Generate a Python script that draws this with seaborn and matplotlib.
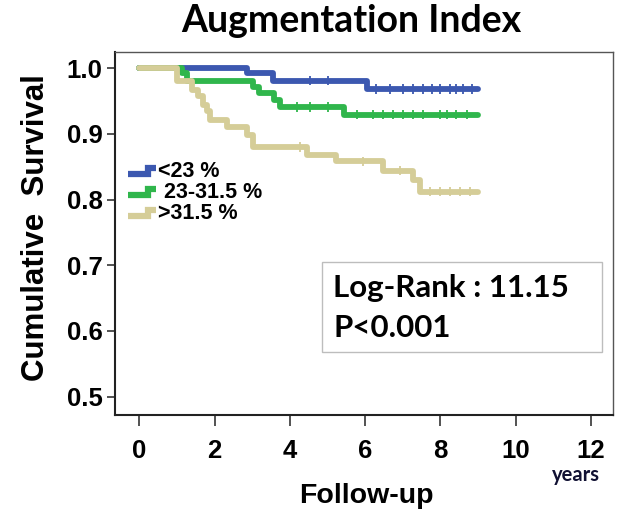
import numpy as np
import pandas as pd
import seaborn as sns
import matplotlib.pyplot as plt
from matplotlib.lines import Line2D
from matplotlib.patches import Rectangle
from matplotlib.legend_handler import HandlerBase

# step points (time in years, cumulative survival)
groups = ['<23 %', ' 23-31.5 %', '>31.5 %']
colors = ['#3c58b0', '#30b64c', '#d5cd98']

low_t = [0, 2.85, 3.55, 6.05, 9.0]
low_s = [1.0, 0.992, 0.981, 0.968, 0.968]
mid_t = [0, 1.13, 1.28, 3.03, 3.17, 3.57, 3.75, 5.43, 9.0]
mid_s = [1.0, 0.992, 0.980, 0.972, 0.962, 0.951, 0.941, 0.929, 0.929]
high_t = [0, 1.0, 1.39, 1.57, 1.70, 1.79, 1.88, 2.32, 2.85, 3.03, 4.45, 5.24, 6.48, 7.28, 7.46, 9.0]
high_s = [1.0, 0.980, 0.967, 0.957, 0.944, 0.934, 0.921, 0.910, 0.898, 0.880, 0.868, 0.858, 0.844, 0.830, 0.812, 0.812]

# censored observations
low_c = [4.53, 5.02, 6.30, 6.66, 7.01, 7.28, 7.55, 7.77, 7.99, 8.25, 8.43, 8.61, 8.83]
mid_c = [4.18, 4.53, 5.02, 5.78, 6.22, 6.49, 6.75, 7.01, 7.28, 7.55, 7.99, 8.17, 8.43, 8.70]
high_c = [4.27, 5.95, 6.93, 7.72, 7.99, 8.25, 8.52, 8.79]

curves = [(low_t, low_s, low_c), (mid_t, mid_s, mid_c), (high_t, high_s, high_c)]
rows, cens = [], []
for g, (t, s, c) in zip(groups, curves):
    rows.append(pd.DataFrame({'time': t, 'surv': s, 'group': g}))
    idx = np.searchsorted(t, c, side='right') - 1
    cens.append(pd.DataFrame({'time': c, 'surv': np.array(s)[idx], 'group': g}))
df = pd.concat(rows, ignore_index=True)
dc = pd.concat(cens, ignore_index=True)

sns.set_style('ticks')
plt.rcParams.update({'text.color': 'black', 'axes.labelcolor': 'black',
                     'xtick.color': 'black', 'ytick.color': 'black'})
arial = 'Liberation Sans'
calibri = 'Lato'
tickfont = {'fontfamily': arial, 'fontweight': 'bold', 'fontsize': 18.5}

fig = plt.figure(figsize=(6.19, 5.12), dpi=100)
ax = fig.add_axes([115/619, 1-415/512, 498/619, 363.3/512])

pal = dict(zip(groups, colors))
sns.lineplot(data=df, x='time', y='surv', hue='group', hue_order=groups, palette=pal,
             drawstyle='steps-post', lw=4.2, estimator=None, sort=False,
             legend=False, ax=ax)
sns.scatterplot(data=dc, x='time', y='surv', hue='group', hue_order=groups, palette=pal,
                marker='|', s=45, linewidth=1.3, legend=False, ax=ax, zorder=3)

ax.set_xlim(-0.646, 12.59)
ax.set_ylim(0.472, 1.025)
ax.set_xticks(range(0, 13, 2), [str(v) for v in range(0, 13, 2)], **tickfont)
ax.set_yticks([0.5, 0.6, 0.7, 0.8, 0.9, 1.0],
              ['0.5', '0.6', '0.7', '0.8', '0.9', '1.0'], **tickfont)
ax.tick_params(axis='x', length=8, width=1.3, pad=9, color='#444444')
ax.tick_params(axis='y', length=6, width=1.3, pad=3, color='#444444')
for sp in ax.spines.values():
    sp.set_visible(True)
    sp.set_linewidth(1.5)
    sp.set_color('#222222')
ax.spines['top'].set_color('#555555')
ax.spines['top'].set_linewidth(1.0)
ax.spines['right'].set_color('#555555')
ax.spines['right'].set_linewidth(1.0)

ax.set_xlabel('Follow-up', fontfamily=arial, fontweight='bold', fontsize=20.5, va='top')
ax.xaxis.set_label_coords(0.504, -0.187)
ax.set_ylabel('Cumulative  Survival', fontfamily=arial, fontweight='bold', fontsize=22.5)
ax.yaxis.set_label_coords(-0.128, 0.515)


class StepHandler(HandlerBase):
    def create_artists(self, legend, orig_handle, xdescent, ydescent, width, height, fontsize, trans):
        xs = np.array([0, 0.72, 0.72, 1.0]) * width - xdescent
        ys = np.array([0.15, 0.15, 0.6, 0.6]) * height - ydescent
        ln = Line2D(xs, ys, color=orig_handle.get_color(), lw=4.5,
                    solid_joinstyle='miter', solid_capstyle='butt')
        ln.set_transform(trans)
        return [ln]


handles = [Line2D([], [], color=c) for c in colors]
ax.legend(handles, groups, loc='upper left', bbox_to_anchor=(0.026, 0.70),
          frameon=False, borderpad=0, borderaxespad=0, handlelength=1.3,
          handletextpad=0.1, labelspacing=0.0,
          handler_map={Line2D: StepHandler()},
          prop={'family': arial, 'weight': 'bold', 'size': 15.5})

ax.add_patch(Rectangle((0.415, 0.174), 0.563, 0.248, transform=ax.transAxes,
                       fill=False, edgecolor='#bdbdbd', lw=1.0))
ax.text(0.438, 0.326, 'Log-Rank : 11.15', transform=ax.transAxes, va='baseline',
        fontfamily=calibri, fontweight='bold', fontsize=22.5)
ax.text(0.438, 0.214, 'P<0.001', transform=ax.transAxes, va='baseline',
        fontfamily=calibri, fontweight='bold', fontsize=22.5)

fig.text(576/619, 1-481/512, 'years', ha='center', va='baseline',
         fontfamily=calibri, fontweight='bold', fontsize=14.5, color='#111133')
fig.text(351/619, 1-32/512, 'Augmentation Index', ha='center', va='baseline',
         fontfamily=calibri, fontweight='bold', fontsize=27)

plt.savefig('out.png', dpi=100)
